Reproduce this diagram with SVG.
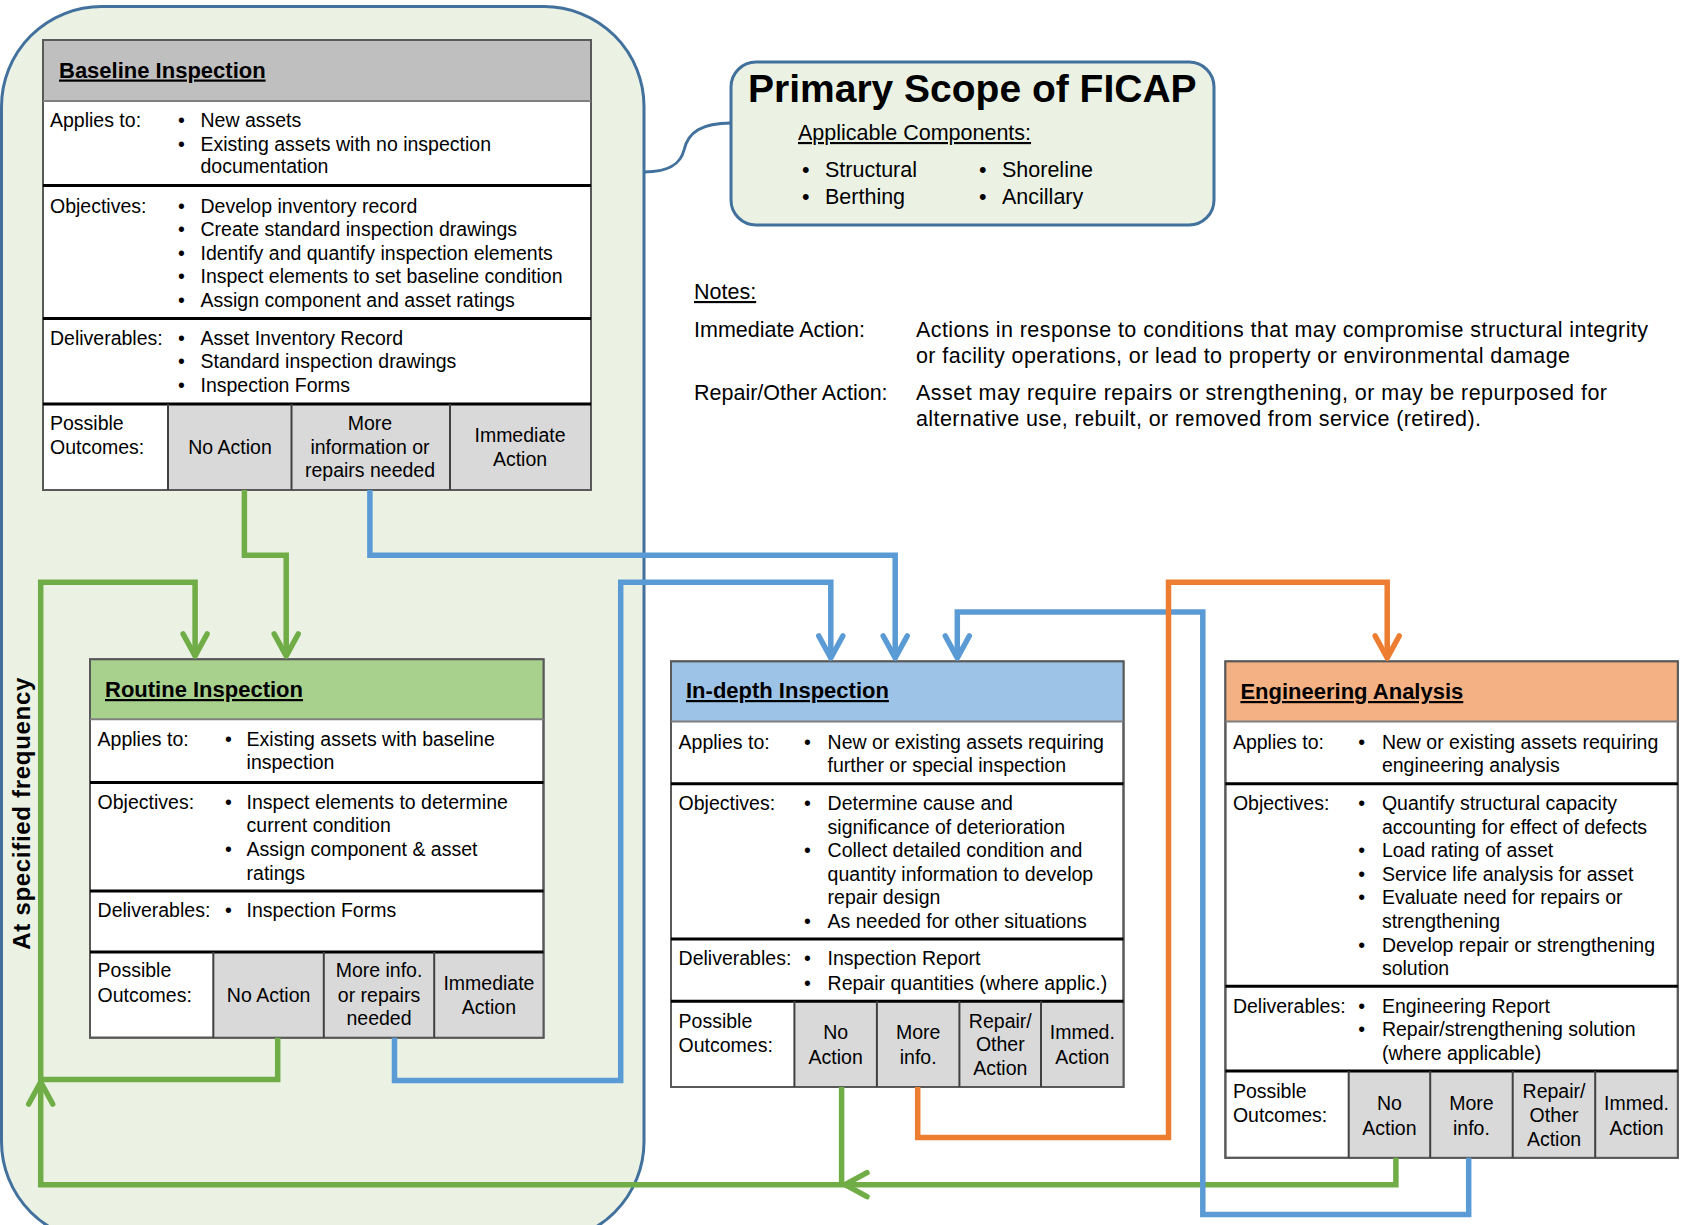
<svg xmlns="http://www.w3.org/2000/svg" width="1681" height="1225" viewBox="0 0 1681 1225">
<style>
text{font-family:"Liberation Sans",Arial,sans-serif;fill:#000}
.t{font-size:19.5px}
.n{font-size:21.5px}
.c{text-anchor:middle}
.h{font-size:22px;font-weight:bold;text-decoration:underline}
.u{text-decoration:underline}
.sep{stroke:#000;stroke-width:3}
.hsep{stroke:#7f7f7f;stroke-width:2}
.div{stroke:#404040;stroke-width:2}
.box{fill:#fff;stroke:#595959;stroke-width:2}
.cell{fill:#d9d9d9}
.lg{fill:none;stroke:#70ad47;stroke-width:5.5}
.lb{fill:none;stroke:#5b9bd5;stroke-width:5.5}
.lo{fill:none;stroke:#ed7d31;stroke-width:5.5}
</style>
<defs>
<marker id="aG" markerUnits="userSpaceOnUse" orient="auto" refX="0" refY="0" markerWidth="60" markerHeight="60" viewBox="-30 -30 60 60" overflow="visible"><path d="M-22,-12 L0,0 L-22,12" fill="none" stroke="#70ad47" stroke-width="5.5" stroke-linecap="round" stroke-linejoin="round"/></marker>
<marker id="aB" markerUnits="userSpaceOnUse" orient="auto" refX="0" refY="0" markerWidth="60" markerHeight="60" viewBox="-30 -30 60 60" overflow="visible"><path d="M-22,-12 L0,0 L-22,12" fill="none" stroke="#5b9bd5" stroke-width="5.5" stroke-linecap="round" stroke-linejoin="round"/></marker>
<marker id="aO" markerUnits="userSpaceOnUse" orient="auto" refX="0" refY="0" markerWidth="60" markerHeight="60" viewBox="-30 -30 60 60" overflow="visible"><path d="M-22,-12 L0,0 L-22,12" fill="none" stroke="#ed7d31" stroke-width="5.5" stroke-linecap="round" stroke-linejoin="round"/></marker>
</defs>
<rect width="1681" height="1225" fill="#fff"/>

<g id="scope-region">
<rect x="1.5" y="6.5" width="642.5" height="1235" rx="100" ry="100" fill="#ebf2e4" stroke="#41719c" stroke-width="3"/>
<path d="M644,172 C672,172 681,162 684,150 C688,132 702,123 731,123" fill="none" stroke="#41719c" stroke-width="3"/>
</g>

<g id="primary-scope">
<rect x="731" y="62" width="483" height="163" rx="25" ry="25" fill="#ebf2e4" stroke="#41719c" stroke-width="3"/>
<text x="748" y="102" font-size="39" font-weight="bold">Primary Scope of FICAP</text>
<text x="798" y="140" class="n u">Applicable Components:</text>
<text x="802" y="177" class="n">•</text><text x="825" y="177" class="n">Structural</text>
<text x="802" y="204" class="n">•</text><text x="825" y="204" class="n">Berthing</text>
<text x="979" y="177" class="n">•</text><text x="1002" y="177" class="n">Shoreline</text>
<text x="979" y="204" class="n">•</text><text x="1002" y="204" class="n">Ancillary</text>
</g>

<g id="notes">
<text x="694" y="299" class="n u">Notes:</text>
<text x="694" y="336.5" class="n">Immediate Action:</text>
<text x="916" y="336.5" class="n" textLength="732">Actions in response to conditions that may compromise structural integrity</text>
<text x="916" y="363" class="n" textLength="654">or facility operations, or lead to property or environmental damage</text>
<text x="694" y="400" class="n">Repair/Other Action:</text>
<text x="916" y="400" class="n" textLength="691">Asset may require repairs or strengthening, or may be repurposed for</text>
<text x="916" y="425.5" class="n" textLength="565">alternative use, rebuilt, or removed from service (retired).</text>
</g>

<g id="baseline-inspection">
<rect x="43" y="40" width="548" height="450" class="box"/>
<rect x="43" y="40" width="548" height="61" fill="#bfbfbf"/>
<rect x="168" y="404" width="423" height="86" class="cell"/>
<rect x="43" y="40" width="548" height="450" fill="none" stroke="#595959" stroke-width="2"/>
<line x1="43" y1="101" x2="591" y2="101" class="hsep"/>
<line x1="43" y1="185.5" x2="591" y2="185.5" class="sep"/>
<line x1="43" y1="318.5" x2="591" y2="318.5" class="sep"/>
<line x1="43" y1="404" x2="591" y2="404" class="sep"/>
<line x1="168" y1="404" x2="168" y2="490" class="div"/>
<line x1="291.5" y1="404" x2="291.5" y2="490" class="div"/>
<line x1="450" y1="404" x2="450" y2="490" class="div"/>
<text x="59" y="77.5" class="h">Baseline Inspection</text>
<text x="50" y="127" class="t">Applies to:</text>
<text x="178" y="127" class="t">•</text><text x="200.5" y="127" class="t">New assets</text>
<text x="178" y="150.5" class="t">•</text><text x="200.5" y="150.5" class="t">Existing assets with no inspection</text>
<text x="200.5" y="173" class="t">documentation</text>
<text x="50" y="212.5" class="t">Objectives:</text>
<text x="178" y="212.5" class="t">•</text><text x="200.5" y="212.5" class="t">Develop inventory record</text>
<text x="178" y="236" class="t">•</text><text x="200.5" y="236" class="t">Create standard inspection drawings</text>
<text x="178" y="259.5" class="t">•</text><text x="200.5" y="259.5" class="t">Identify and quantify inspection elements</text>
<text x="178" y="283" class="t">•</text><text x="200.5" y="283" class="t">Inspect elements to set baseline condition</text>
<text x="178" y="306.5" class="t">•</text><text x="200.5" y="306.5" class="t">Assign component and asset ratings</text>
<text x="50" y="344.5" class="t">Deliverables:</text>
<text x="178" y="344.5" class="t">•</text><text x="200.5" y="344.5" class="t">Asset Inventory Record</text>
<text x="178" y="368" class="t">•</text><text x="200.5" y="368" class="t">Standard inspection drawings</text>
<text x="178" y="391.5" class="t">•</text><text x="200.5" y="391.5" class="t">Inspection Forms</text>
<text x="50" y="430" class="t">Possible</text>
<text x="50" y="453.5" class="t">Outcomes:</text>
<text x="230" y="453.5" class="t c">No Action</text>
<text x="370" y="430" class="t c">More</text>
<text x="370" y="453.5" class="t c">information or</text>
<text x="370" y="477" class="t c">repairs needed</text>
<text x="520" y="441.5" class="t c">Immediate</text>
<text x="520" y="465.5" class="t c">Action</text>
</g>

<g id="routine-inspection">
<rect x="90" y="659.3" width="453.5" height="378.4" class="box"/>
<rect x="90" y="659.3" width="453.5" height="60" fill="#a9d18e"/>
<rect x="213.3" y="952" width="330.2" height="85.7" class="cell"/>
<rect x="90" y="659.3" width="453.5" height="378.4" fill="none" stroke="#595959" stroke-width="2"/>
<line x1="90" y1="719.3" x2="543.5" y2="719.3" class="hsep"/>
<line x1="90" y1="782.6" x2="543.5" y2="782.6" class="sep"/>
<line x1="90" y1="890.9" x2="543.5" y2="890.9" class="sep"/>
<line x1="90" y1="952" x2="543.5" y2="952" class="sep"/>
<line x1="213.3" y1="952" x2="213.3" y2="1037.7" class="div"/>
<line x1="323.8" y1="952" x2="323.8" y2="1037.7" class="div"/>
<line x1="434.2" y1="952" x2="434.2" y2="1037.7" class="div"/>
<text x="105" y="697" class="h">Routine Inspection</text>
<text x="97.6" y="745.6" class="t">Applies to:</text>
<text x="225" y="745.6" class="t">•</text><text x="246.6" y="745.6" class="t">Existing assets with baseline</text>
<text x="246.6" y="769.2" class="t">inspection</text>
<text x="97.6" y="808.9" class="t">Objectives:</text>
<text x="225" y="808.9" class="t">•</text><text x="246.6" y="808.9" class="t">Inspect elements to determine</text>
<text x="246.6" y="832.4" class="t">current condition</text>
<text x="225" y="856" class="t">•</text><text x="246.6" y="856" class="t">Assign component &amp; asset</text>
<text x="246.6" y="879.6" class="t">ratings</text>
<text x="97.6" y="917" class="t">Deliverables:</text>
<text x="225" y="917" class="t">•</text><text x="246.6" y="917" class="t">Inspection Forms</text>
<text x="97.6" y="977.2" class="t">Possible</text>
<text x="97.6" y="1001.8" class="t">Outcomes:</text>
<text x="268.6" y="1001.8" class="t c">No Action</text>
<text x="379" y="977.2" class="t c">More info.</text>
<text x="379" y="1001.8" class="t c">or repairs</text>
<text x="379" y="1025.4" class="t c">needed</text>
<text x="488.9" y="990" class="t c">Immediate</text>
<text x="488.9" y="1013.7" class="t c">Action</text>
</g>

<g id="indepth-inspection">
<rect x="671" y="661.4" width="452.5" height="425.6" class="box"/>
<rect x="671" y="661.4" width="452.5" height="60.1" fill="#9dc3e6"/>
<rect x="794.4" y="1001.2" width="329.1" height="85.8" class="cell"/>
<rect x="671" y="661.4" width="452.5" height="425.6" fill="none" stroke="#595959" stroke-width="2"/>
<line x1="671" y1="721.5" x2="1123.5" y2="721.5" class="hsep"/>
<line x1="671" y1="783.7" x2="1123.5" y2="783.7" class="sep"/>
<line x1="671" y1="939.1" x2="1123.5" y2="939.1" class="sep"/>
<line x1="671" y1="1001.2" x2="1123.5" y2="1001.2" class="sep"/>
<line x1="794.4" y1="1001.2" x2="794.4" y2="1087" class="div"/>
<line x1="876.9" y1="1001.2" x2="876.9" y2="1087" class="div"/>
<line x1="959.4" y1="1001.2" x2="959.4" y2="1087" class="div"/>
<line x1="1041" y1="1001.2" x2="1041" y2="1087" class="div"/>
<text x="686" y="698" class="h">In-depth Inspection</text>
<text x="678.6" y="748.8" class="t">Applies to:</text>
<text x="804" y="748.8" class="t">•</text><text x="827.6" y="748.8" class="t">New or existing assets requiring</text>
<text x="827.6" y="772.4" class="t">further or special inspection</text>
<text x="678.6" y="810" class="t">Objectives:</text>
<text x="804" y="810" class="t">•</text><text x="827.6" y="810" class="t">Determine cause and</text>
<text x="827.6" y="833.6" class="t">significance of deterioration</text>
<text x="804" y="857.1" class="t">•</text><text x="827.6" y="857.1" class="t">Collect detailed condition and</text>
<text x="827.6" y="880.7" class="t">quantity information to develop</text>
<text x="827.6" y="904.3" class="t">repair design</text>
<text x="804" y="927.9" class="t">•</text><text x="827.6" y="927.9" class="t">As needed for other situations</text>
<text x="678.6" y="965.4" class="t">Deliverables:</text>
<text x="804" y="965.4" class="t">•</text><text x="827.6" y="965.4" class="t">Inspection Report</text>
<text x="804" y="990" class="t">•</text><text x="827.6" y="990" class="t">Repair quantities (where applic.)</text>
<text x="678.6" y="1027.6" class="t">Possible</text>
<text x="678.6" y="1052.2" class="t">Outcomes:</text>
<text x="835.7" y="1039.4" class="t c">No</text>
<text x="835.7" y="1064" class="t c">Action</text>
<text x="918.2" y="1039.4" class="t c">More</text>
<text x="918.2" y="1064" class="t c">info.</text>
<text x="1000.3" y="1027.6" class="t c">Repair/</text>
<text x="1000.3" y="1051.2" class="t c">Other</text>
<text x="1000.3" y="1074.8" class="t c">Action</text>
<text x="1082.3" y="1039.4" class="t c">Immed.</text>
<text x="1082.3" y="1064" class="t c">Action</text>
</g>

<g id="engineering-analysis">
<rect x="1225.4" y="661.4" width="452.4" height="496.4" class="box"/>
<rect x="1225.4" y="661.4" width="452.4" height="60.1" fill="#f4b183"/>
<rect x="1348.7" y="1071" width="329.1" height="86.8" class="cell"/>
<rect x="1225.4" y="661.4" width="452.4" height="496.4" fill="none" stroke="#595959" stroke-width="2"/>
<line x1="1225.4" y1="721.5" x2="1677.8" y2="721.5" class="hsep"/>
<line x1="1225.4" y1="783.7" x2="1677.8" y2="783.7" class="sep"/>
<line x1="1225.4" y1="986.3" x2="1677.8" y2="986.3" class="sep"/>
<line x1="1225.4" y1="1071" x2="1677.8" y2="1071" class="sep"/>
<line x1="1348.7" y1="1071" x2="1348.7" y2="1157.8" class="div"/>
<line x1="1430.2" y1="1071" x2="1430.2" y2="1157.8" class="div"/>
<line x1="1512.7" y1="1071" x2="1512.7" y2="1157.8" class="div"/>
<line x1="1595.2" y1="1071" x2="1595.2" y2="1157.8" class="div"/>
<text x="1240.4" y="699" class="h">Engineering Analysis</text>
<text x="1232.9" y="748.8" class="t">Applies to:</text>
<text x="1358.3" y="748.8" class="t">•</text><text x="1381.9" y="748.8" class="t">New or existing assets requiring</text>
<text x="1381.9" y="772.4" class="t">engineering analysis</text>
<text x="1232.9" y="810" class="t">Objectives:</text>
<text x="1358.3" y="810" class="t">•</text><text x="1381.9" y="810" class="t">Quantify structural capacity</text>
<text x="1381.9" y="833.6" class="t">accounting for effect of defects</text>
<text x="1358.3" y="857.1" class="t">•</text><text x="1381.9" y="857.1" class="t">Load rating of asset</text>
<text x="1358.3" y="880.7" class="t">•</text><text x="1381.9" y="880.7" class="t">Service life analysis for asset</text>
<text x="1358.3" y="904.3" class="t">•</text><text x="1381.9" y="904.3" class="t">Evaluate need for repairs or</text>
<text x="1381.9" y="927.9" class="t">strengthening</text>
<text x="1358.3" y="951.5" class="t">•</text><text x="1381.9" y="951.5" class="t">Develop repair or strengthening</text>
<text x="1381.9" y="975.1" class="t">solution</text>
<text x="1232.9" y="1012.6" class="t">Deliverables:</text>
<text x="1358.3" y="1012.6" class="t">•</text><text x="1381.9" y="1012.6" class="t">Engineering Report</text>
<text x="1358.3" y="1036.2" class="t">•</text><text x="1381.9" y="1036.2" class="t">Repair/strengthening solution</text>
<text x="1381.9" y="1059.8" class="t">(where applicable)</text>
<text x="1232.9" y="1098.4" class="t">Possible</text>
<text x="1232.9" y="1122" class="t">Outcomes:</text>
<text x="1389.4" y="1110.2" class="t c">No</text>
<text x="1389.4" y="1134.8" class="t c">Action</text>
<text x="1471.4" y="1110.2" class="t c">More</text>
<text x="1471.4" y="1134.8" class="t c">info.</text>
<text x="1554" y="1098.4" class="t c">Repair/</text>
<text x="1554" y="1122" class="t c">Other</text>
<text x="1554" y="1145.5" class="t c">Action</text>
<text x="1636.5" y="1110.2" class="t c">Immed.</text>
<text x="1636.5" y="1134.8" class="t c">Action</text>
</g>

<g id="freq-label">
<text transform="translate(30,813.7) rotate(-90)" text-anchor="middle" font-size="24" font-weight="bold" textLength="272">At specified frequency</text>
</g>

<g id="connectors">
<path class="lg" d="M244.4,490 V555.3 H286.2 V656" marker-end="url(#aG)"/>
<path class="lg" d="M1395.9,1157.8 V1184.7 H845" marker-end="url(#aG)"/>
<path class="lg" d="M845,1184.7 H40.7 V1082" marker-end="url(#aG)"/>
<path class="lg" d="M841.6,1087 V1184.7"/>
<path class="lg" d="M277.7,1037.7 V1079.5 H40.7 V582.2 H195.1 V656" marker-end="url(#aG)"/>
<path class="lb" d="M369.9,490 V555.3 H895.2 V658" marker-end="url(#aB)"/>
<path class="lb" d="M394.5,1037.7 V1080.6 H620.7 V582.2 H830.8 V658" marker-end="url(#aB)"/>
<path class="lb" d="M1468.7,1157.8 V1214.6 H1202.8 V612.1 H957.3 V658" marker-end="url(#aB)"/>
<path class="lo" d="M917.7,1087 V1137.4 H1168.5 V582.2 H1387.2 V658" marker-end="url(#aO)"/>
</g>
</svg>
